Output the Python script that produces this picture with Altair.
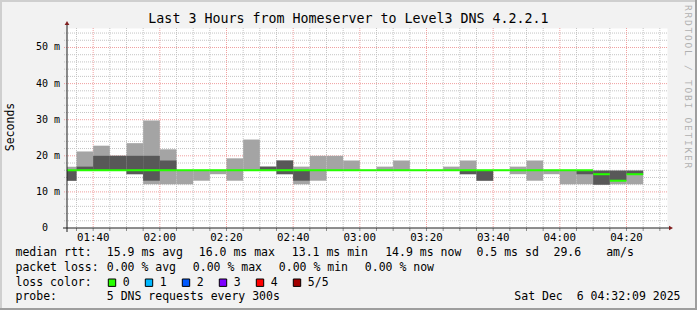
import altair as alt
import pandas as pd

# ---------------- data ----------------
# 5-minute RRD steps, start time in minutes after midnight
starts = [90, 95, 100, 105, 110, 115, 120, 125, 130, 135, 140, 145, 150, 155,
          160, 165, 170, 175, 180, 185, 190, 195, 200, 205, 210, 215, 220, 225,
          230, 235, 240, 245, 250, 255, 260]
# sorted ping RTTs (ms) per step: ping1 (min) .. ping5 (max), ping3 = median
ping1 = [13.1, 15.9, 15.9, 15.9, 14.9, 12.1, 12.1, 12.1, 13.1, 14.9, 13.1, 15.9,
         15.9, 14.9, 12.1, 13.1, 15.9, 15.9, 15.9, 15.9, 15.9, 15.9, 15.9, 15.9,
         14.9, 13.1, 15.9, 14.9, 13.1, 14.9, 12.1, 12.1, 12.0, 12.1, 12.1]
ping2 = [13.1, 15.9, 15.9, 15.9, 14.9, 13.1, 15.9, 15.9, 15.9, 15.9, 15.9, 15.9,
         15.9, 14.9, 13.1, 15.9, 15.9, 15.9, 15.9, 15.9, 15.9, 15.9, 15.9, 15.9,
         14.9, 13.1, 15.9, 15.9, 15.9, 15.9, 15.9, 14.9, 12.0, 13.1, 14.9]
median = [16.0, 16.0, 16.0, 16.0, 16.0, 16.0, 16.0, 16.0, 16.0, 16.0, 16.0, 16.0,
          16.0, 16.0, 16.0, 16.0, 16.0, 16.0, 16.0, 16.0, 16.0, 16.0, 16.0, 16.0,
          16.0, 16.0, 16.0, 16.0, 16.0, 16.0, 16.0, 16.0, 14.9, 13.1, 14.9]
ping4 = [16.0, 17.0, 20.0, 20.0, 20.0, 20.0, 18.7, 16.0, 16.0, 16.0, 16.0, 16.0,
         17.0, 18.7, 16.0, 16.0, 16.0, 16.0, 16.0, 16.0, 16.0, 16.0, 16.0, 16.0,
         16.0, 16.0, 16.0, 16.0, 16.0, 16.0, 16.0, 16.0, 15.9, 15.9, 15.9]
ping5 = [17.0, 21.2, 22.8, 20.0, 23.5, 29.8, 21.8, 16.0, 16.0, 16.0, 19.3, 24.5,
         17.0, 18.7, 17.0, 20.0, 20.0, 18.7, 16.1, 17.0, 18.7, 16.1, 16.1, 17.0,
         18.7, 16.0, 16.1, 17.0, 18.7, 16.0, 16.0, 16.0, 15.9, 15.9, 15.9]

x_ticks = [100, 120, 140, 160, 180, 200, 220, 240, 260]
x_labels = ["01:40", "02:00", "02:20", "02:40", "03:00", "03:20", "03:40", "04:00", "04:20"]
x_minor = [m for m in range(95, 271, 5) if m % 20 != 0]
y_ticks = [0, 10, 20, 30, 40, 50]
y_numbers = ["0", "10", "20", "30", "40", "50"]
y_minor = [v for v in range(2, 56, 2) if v % 10 != 0]
y_major = [10, 20, 30, 40, 50]

title = "Last 3 Hours from Homeserver to Level3 DNS 4.2.2.1"
y_title = "Seconds"
watermark = "RRDTOOL / TOBI OETIKER"
legend_line1 = ["median rtt:", "15.9 ms avg", "16.0 ms max", "13.1 ms min",
                "14.9 ms now", "0.5 ms sd", "29.6", "am/s"]
legend_line2 = ["packet loss:", "0.00 % avg", "0.00 % max", "0.00 % min", "0.00 % now"]
legend_line3 = ["loss color:"]
loss_labels = ["0", "1", "2", "3", "4", "5/5"]
loss_colors = ["#26ff00", "#00b8ff", "#0059ff", "#7e00ff", "#ff0000", "#a10000"]
legend_line4 = ["probe:", "5 DNS requests every 300s"]
stamp = "Sat Dec\u00a0\u00a06 04:32:09 2025"

# ---------------- layout ----------------
W, H = 600, 200
PL, PT = 67, 28
X0, X1 = 92.15, 272.15
YMAX = 55.4
FONT = "DejaVu Sans Mono"
LFS = 11.5

df = pd.DataFrame(dict(t0=starts, t1=[s + 5 for s in starts], p1=ping1, p2=ping2,
                       med=median, p4=ping4, p5=ping5))

xs = alt.Scale(domain=[X0, X1], nice=False, zero=False)
ys = alt.Scale(domain=[0, YMAX], nice=False, zero=False)

one = pd.DataFrame({"a": [0]})

# grid
vmin = alt.Chart(pd.DataFrame({"t": x_minor})).mark_rule(
    color="#c4c4c4", strokeDash=[1, 1], strokeWidth=1).encode(
    x=alt.X("t:Q", scale=xs, axis=None), y=alt.value(0), y2=alt.value(H))
vmaj = alt.Chart(pd.DataFrame({"t": x_ticks})).mark_rule(
    color="#f0a0a0", strokeDash=[1, 1], strokeWidth=1).encode(
    x=alt.X("t:Q", scale=xs, axis=None), y=alt.value(0), y2=alt.value(H))
hmin = alt.Chart(pd.DataFrame({"v": y_minor})).mark_rule(
    color="#c4c4c4", strokeDash=[1, 1], strokeWidth=1).encode(
    y=alt.Y("v:Q", scale=ys, axis=None), x=alt.value(-3), x2=alt.value(601))
hmaj = alt.Chart(pd.DataFrame({"v": y_major})).mark_rule(
    color="#f0a0a0", strokeDash=[1, 1], strokeWidth=1).encode(
    y=alt.Y("v:Q", scale=ys, axis=None), x=alt.value(-3), x2=alt.value(601))
xtick_all = alt.Chart(pd.DataFrame({"t": x_minor + x_ticks})).mark_rule(
    color="#8f8f8f", strokeWidth=1).encode(
    x=alt.X("t:Q", scale=xs, axis=None), y=alt.value(H), y2=alt.value(H + 3))

# smoke
light = alt.Chart(df).mark_rect(color="#a4a4a4", clip=True).encode(
    x=alt.X("t0:Q", scale=xs, axis=None), x2="t1:Q",
    y=alt.Y("p1:Q", scale=ys, axis=None), y2="p5:Q")
dark = alt.Chart(df).mark_rect(color="#585858", clip=True).encode(
    x=alt.X("t0:Q", scale=xs, axis=None), x2="t1:Q",
    y=alt.Y("p2:Q", scale=ys, axis=None), y2="p4:Q")
medline = alt.Chart(df).transform_calculate(
    lo="datum.med - 0.28", hi="datum.med + 0.28").mark_rect(
    color=loss_colors[0], clip=True).encode(
    x=alt.X("t0:Q", scale=xs, axis=None), x2="t1:Q",
    y=alt.Y("lo:Q", scale=ys, axis=None), y2="hi:Q")

# axes lines and arrows
xaxis = alt.Chart(one).mark_rule(color="#1f1f1f", strokeWidth=1).encode(
    x=alt.value(-4), x2=alt.value(603), y=alt.value(H))
yaxis = alt.Chart(one).mark_rule(color="#1f1f1f", strokeWidth=1).encode(
    x=alt.value(0), y=alt.value(-5), y2=alt.value(H + 4))
xarrow = alt.Chart(one).mark_point(shape="triangle-right", filled=True, opacity=1,
                                   color="#801f1f", size=22).encode(
    x=alt.value(604), y=alt.value(H))
yarrow = alt.Chart(one).mark_point(shape="triangle-up", filled=True, opacity=1,
                                   color="#801f1f", size=22).encode(
    x=alt.value(0), y=alt.value(-5))

# tick labels
xlab = alt.Chart(pd.DataFrame({"t": x_ticks, "lab": x_labels})).mark_text(
    font=FONT, fontSize=10.8, align="center", baseline="middle", color="black").encode(
    x=alt.X("t:Q", scale=xs, axis=None), y=alt.value(209.5), text="lab:N")
ylab = alt.Chart(pd.DataFrame({"v": y_ticks, "lab": y_numbers})).mark_text(
    font=FONT, fontSize=10, align="right", baseline="middle", color="black").encode(
    y=alt.Y("v:Q", scale=ys, axis=None), x=alt.value(-19), text="lab:N")
yunit = alt.Chart(pd.DataFrame({"v": y_ticks[1:]})).mark_text(
    font=FONT, fontSize=10, align="left", baseline="middle", color="black", text="m").encode(
    y=alt.Y("v:Q", scale=ys, axis=None), x=alt.value(-13))

ytitle = alt.Chart(one).mark_text(font=FONT, fontSize=LFS, angle=270, align="center",
                                  baseline="middle", color="black", text=y_title).encode(
    x=alt.value(10.8 - PL), y=alt.value(127 - PT))
ttl = alt.Chart(one).mark_text(font=FONT, fontSize=13.3, align="center",
                               baseline="middle", color="black", text=title).encode(
    x=alt.value(348.5 - PL), y=alt.value(19.3 - PT))

# watermark, spaced letters running downwards along the right edge
wmdf = pd.DataFrame({"ch": list(watermark)})
wmdf["py"] = [5 - PT + 7.5 * i for i in range(len(wmdf))]
wmdf = wmdf[wmdf["ch"] != " "]
wm = alt.Chart(wmdf).mark_text(font=FONT, fontSize=9.5, angle=90, align="left",
                               baseline="top", color="#b0b0b0").encode(
    x=alt.value(693 - PL), y=alt.Y("py:Q", scale=None, axis=None), text="ch:N")

# legend text
rows = []
for txt, px in zip(legend_line1, [16, 107.3, 199.3, 292.3, 385.7, 477, 554, 606.7]):
    rows.append((txt, px, 253.3))
for txt, px in zip(legend_line2, [16, 107.3, 193.3, 279.3, 365.3]):
    rows.append((txt, px, 268.3))
rows.append((legend_line3[0], 16, 282.7))
for i, txt in enumerate(loss_labels):
    rows.append((txt, 108.3 + 37 * i + 15, 282.7))
for txt, px in zip(legend_line4, [16, 107.3]):
    rows.append((txt, px, 296.7))
leg = pd.DataFrame(rows, columns=["txt", "px", "py"])
leg["txt"] = leg["txt"].str.replace(" ", "\u00a0")
leg["px"] = leg["px"] - PL - 0.5
leg["py"] = leg["py"] - PT
legtext = alt.Chart(leg).mark_text(font=FONT, fontSize=LFS, align="left",
                                   baseline="middle", color="black").encode(
    x=alt.X("px:Q", scale=None, axis=None), y=alt.Y("py:Q", scale=None, axis=None),
    text="txt:N")
stamptext = alt.Chart(one).mark_text(font=FONT, fontSize=LFS, align="right",
                                     baseline="middle", color="black", text=stamp).encode(
    x=alt.value(680.5 - PL), y=alt.value(296.7 - PT))

boxes = pd.DataFrame({"lab": loss_labels, "col": loss_colors})
boxes["bx"] = [108.3 + 37 * i - PL for i in range(len(loss_labels))]
boxes["bx2"] = boxes["bx"] + 7.4
boxes["by"] = 279.0 - PT
boxes["by2"] = 286.4 - PT
boxmarks = alt.Chart(boxes).mark_rect(stroke="black", strokeWidth=1).encode(
    x=alt.X("bx:Q", scale=None, axis=None), x2="bx2:Q",
    y=alt.Y("by:Q", scale=None, axis=None), y2="by2:Q",
    color=alt.Color("col:N", scale=None, legend=None))

# frame (3D border)
fr_top = alt.Chart(one).mark_rule(color="#cfcfcf", strokeWidth=2).encode(
    x=alt.value(-PL), x2=alt.value(697 - PL), y=alt.value(1 - PT))
fr_left = alt.Chart(one).mark_rule(color="#cfcfcf", strokeWidth=2).encode(
    x=alt.value(1 - PL), y=alt.value(-PT), y2=alt.value(310 - PT))
fr_bot = alt.Chart(one).mark_rule(color="#9e9e9e", strokeWidth=2).encode(
    x=alt.value(-PL), x2=alt.value(697 - PL), y=alt.value(309 - PT))
fr_right = alt.Chart(one).mark_rule(color="#9e9e9e", strokeWidth=2).encode(
    x=alt.value(696 - PL), y=alt.value(-PT), y2=alt.value(310 - PT))

chart = alt.layer(
    fr_top, fr_left, fr_bot, fr_right,
    vmin, hmin, vmaj, hmaj,
    light, dark, medline,
    xtick_all, xaxis, yaxis, xarrow, yarrow,
    xlab, ylab, yunit, ytitle, ttl, wm,
    legtext, stamptext, boxmarks,
).properties(
    width=W, height=H, background="#f2f2f2",
    padding={"left": PL, "top": PT, "right": 697 - PL - W, "bottom": 310 - PT - H},
    autosize=alt.AutoSizeParams(type="none"),
).configure_view(fill="white", stroke="transparent")

chart.save("out.html", embed_options={"renderer": "svg", "actions": False})
